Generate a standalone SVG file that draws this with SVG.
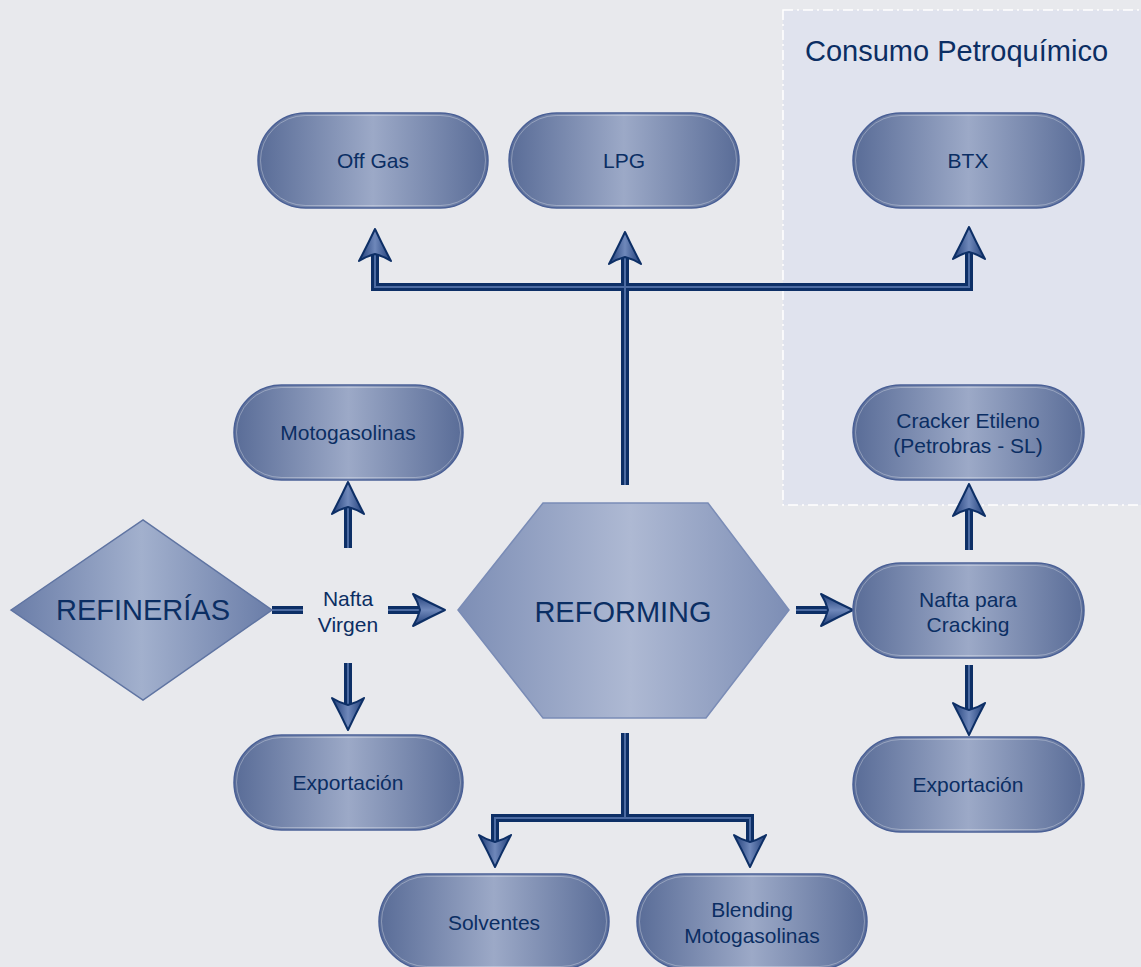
<svg xmlns="http://www.w3.org/2000/svg" xmlns:xlink="http://www.w3.org/1999/xlink" width="1141" height="967" viewBox="0 0 1141 967">
<defs>
<linearGradient id="gNode" x1="0" y1="0" x2="1" y2="0">
<stop offset="0" stop-color="#596c97"/>
<stop offset="0.5" stop-color="#9ca9c7"/>
<stop offset="1" stop-color="#596c97"/>
</linearGradient>
<linearGradient id="gDia" x1="0" y1="0" x2="1" y2="0">
<stop offset="0" stop-color="#6a7da8"/>
<stop offset="0.5" stop-color="#a2b0cd"/>
<stop offset="1" stop-color="#6a7da8"/>
</linearGradient>
<linearGradient id="gHex" x1="0" y1="0" x2="1" y2="0">
<stop offset="0" stop-color="#7d8eb5"/>
<stop offset="0.52" stop-color="#aeb9d3"/>
<stop offset="1" stop-color="#7d8eb5"/>
</linearGradient>
<linearGradient id="gArrow" x1="0" y1="0" x2="0" y2="1">
<stop offset="0" stop-color="#1f3d78"/>
<stop offset="0.5" stop-color="#6f88ba"/>
<stop offset="1" stop-color="#1f3d78"/>
</linearGradient>
<path id="ah" d="M0,0 Q-15,-7 -32,-16 Q-27,-8 -25,0 Q-27,8 -32,16 Q-15,7 0,0 Z" fill="url(#gArrow)" stroke="#0d2f66" stroke-width="2" stroke-linejoin="round"/>
<style>
.bg{fill:#e8e9ed}
.grp{fill:#e0e3ee;stroke:#ffffff;stroke-width:1.5;stroke-dasharray:10 4 2 4}
.node{fill:url(#gNode);stroke:#4a6096;stroke-width:1.5}
.inner{fill:none;stroke:#ffffff;stroke-opacity:0.3;stroke-width:1}
.dia{fill:url(#gDia);stroke:#5f74a2;stroke-width:1.5}
.hex{fill:url(#gHex);stroke:#7a8cb6;stroke-width:1.5}
.lblS{font-family:"Liberation Sans",Arial,sans-serif;font-size:21px;fill:#0b2e63;text-anchor:middle}
.lblL{font-family:"Liberation Sans",Arial,sans-serif;font-size:29px;fill:#0b2e63;text-anchor:middle}
.title{font-family:"Liberation Sans",Arial,sans-serif;font-size:29px;fill:#0b2e63}
.lnO{fill:none;stroke:#0d2f66;stroke-width:8;stroke-linejoin:miter;stroke-linecap:butt}
.lnI{fill:none;stroke:#4c6ba2;stroke-width:2;stroke-linejoin:miter;stroke-linecap:butt}
</style>
</defs>
<rect class="bg" x="0" y="0" width="1141" height="967"/>
<g id="grupo-petroquimico">
<rect class="grp" x="783" y="10" width="370" height="495"/>
<text class="title" x="805" y="61">Consumo Petroquímico</text>
</g>
<g id="connectors">
<path class="lnO" d="M625,485 V255 M375,253 V287 H969 V251"/>
<path class="lnI" d="M625,485 V255 M375,253 V287 H969 V251"/>
<path class="lnO" d="M272,610 H303 M388,610 H420 M348,548 V507 M348,663 V705 M796,610 H828 M969,550 V508 M969,665 V710 M625,733 V818 M495,842 V818 H750 V842"/>
<path class="lnI" d="M272,610 H303 M388,610 H420 M348,548 V507 M348,663 V705 M796,610 H828 M969,550 V508 M969,665 V710 M625,733 V818 M495,842 V818 H750 V842"/>
<use xlink:href="#ah" transform="translate(375,229) rotate(-90)"/>
<use xlink:href="#ah" transform="translate(625,232) rotate(-90)"/>
<use xlink:href="#ah" transform="translate(969,227) rotate(-90)"/>
<use xlink:href="#ah" transform="translate(445,610)"/>
<use xlink:href="#ah" transform="translate(348,482) rotate(-90)"/>
<use xlink:href="#ah" transform="translate(348,730) rotate(90)"/>
<use xlink:href="#ah" transform="translate(853,610)"/>
<use xlink:href="#ah" transform="translate(969,484) rotate(-90)"/>
<use xlink:href="#ah" transform="translate(969,735) rotate(90)"/>
<use xlink:href="#ah" transform="translate(495,867) rotate(90)"/>
<use xlink:href="#ah" transform="translate(750,867) rotate(90)"/>
</g>
<g id="off-gas">
<rect class="node" x="258" y="113" width="230" height="95" rx="47.5"/>
<rect class="inner" x="260.5" y="115.5" width="225" height="90" rx="45"/>
<text class="lblS" x="373" y="168">Off Gas</text>
</g>
<g id="lpg">
<rect class="node" x="509" y="113" width="230" height="95" rx="47.5"/>
<rect class="inner" x="511.5" y="115.5" width="225" height="90" rx="45"/>
<text class="lblS" x="624" y="168">LPG</text>
</g>
<g id="btx">
<rect class="node" x="853" y="113" width="231" height="95" rx="47.5"/>
<rect class="inner" x="855.5" y="115.5" width="226" height="90" rx="45"/>
<text class="lblS" x="968" y="168">BTX</text>
</g>
<g id="motogasolinas">
<rect class="node" x="234" y="385" width="229" height="95" rx="47.5"/>
<rect class="inner" x="236.5" y="387.5" width="224" height="90" rx="45"/>
<text class="lblS" x="348" y="440">Motogasolinas</text>
</g>
<g id="cracker-etileno">
<rect class="node" x="853" y="385" width="231" height="95" rx="47.5"/>
<rect class="inner" x="855.5" y="387.5" width="226" height="90" rx="45"/>
<text class="lblS" x="968" y="428">Cracker Etileno</text>
<text class="lblS" x="968" y="453">(Petrobras - SL)</text>
</g>
<g id="refinerias">
<polygon class="dia" points="11,610 143,520 272,610 143,700"/>
<text class="lblL" x="143" y="620">REFINERÍAS</text>
</g>
<g id="nafta-virgen">
<text class="lblS" x="348" y="606">Nafta</text>
<text class="lblS" x="348" y="632">Virgen</text>
</g>
<g id="reforming">
<polygon class="hex" points="458,610 543,503 708,503 789,610 706,718 543,718"/>
<text class="lblL" x="623" y="622">REFORMING</text>
</g>
<g id="nafta-cracking">
<rect class="node" x="853" y="563" width="231" height="95" rx="47.5"/>
<rect class="inner" x="855.5" y="565.5" width="226" height="90" rx="45"/>
<text class="lblS" x="968" y="607">Nafta para</text>
<text class="lblS" x="968" y="632">Cracking</text>
</g>
<g id="exportacion-1">
<rect class="node" x="234" y="735" width="229" height="95" rx="47.5"/>
<rect class="inner" x="236.5" y="737.5" width="224" height="90" rx="45"/>
<text class="lblS" x="348" y="790">Exportación</text>
</g>
<g id="exportacion-2">
<rect class="node" x="853" y="737" width="231" height="95" rx="47.5"/>
<rect class="inner" x="855.5" y="739.5" width="226" height="90" rx="45"/>
<text class="lblS" x="968" y="792">Exportación</text>
</g>
<g id="solventes">
<rect class="node" x="379" y="874" width="230" height="95" rx="47.5"/>
<rect class="inner" x="381.5" y="876.5" width="225" height="90" rx="45"/>
<text class="lblS" x="494" y="930">Solventes</text>
</g>
<g id="blending">
<rect class="node" x="637" y="874" width="230" height="95" rx="47.5"/>
<rect class="inner" x="639.5" y="876.5" width="225" height="90" rx="45"/>
<text class="lblS" x="752" y="917">Blending</text>
<text class="lblS" x="752" y="943">Motogasolinas</text>
</g>
</svg>
